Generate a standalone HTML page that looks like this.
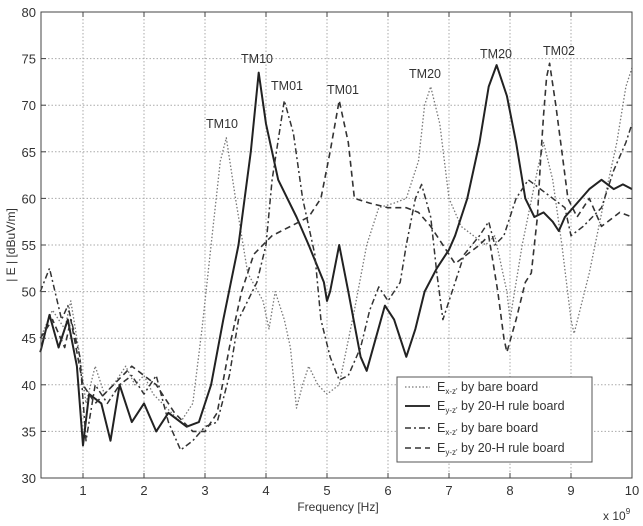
<!DOCTYPE html>
<html><head><meta charset="utf-8"><style>
html,body{margin:0;padding:0;background:#fff;}
svg{display:block;font-family:"Liberation Sans",sans-serif;}
</style></head><body>
<svg id="s" width="643" height="526" viewBox="0 0 643 526" xmlns="http://www.w3.org/2000/svg">
<rect width="643" height="526" fill="#fff"/>
<g id="grid" stroke="#aaa" stroke-width="1" stroke-dasharray="1.5,2"></g>
<g id="series" fill="none"></g>
<rect x="41" y="12" width="591" height="466" fill="none" stroke="#444" stroke-width="1"/>
<g id="ticks" stroke="#444" stroke-width="1"></g>
<g id="labels" font-size="13" fill="#333"></g>
<g font-size="12.5" fill="#333" text-anchor="middle">
<text x="222" y="128">TM10</text>
<text x="257" y="63">TM10</text>
<text x="287" y="90">TM01</text>
<text x="343" y="94">TM01</text>
<text x="425" y="78">TM20</text>
<text x="496" y="58">TM20</text>
<text x="559" y="55">TM02</text>
</g>
<text x="338" y="511" font-size="12" fill="#333" text-anchor="middle">Frequency [Hz]</text>
<text x="603" y="520" font-size="12" fill="#333">x 10<tspan font-size="8" dy="-6">9</tspan></text>
<text transform="translate(15,245) rotate(-90)" font-size="12" fill="#333" text-anchor="middle">| E | [dBuV/m]</text>
<g>
<rect x="397" y="377" width="195" height="85" fill="#fff" stroke="#555" stroke-width="1"/>
<line x1="405" y1="387" x2="430" y2="387" stroke="#777" stroke-width="1.3" stroke-dasharray="1.5,2"/>
<line x1="405" y1="406" x2="430" y2="406" stroke="#333" stroke-width="2"/>
<line x1="405" y1="428" x2="430" y2="428" stroke="#333" stroke-width="1.5" stroke-dasharray="6,3,2,3"/>
<line x1="405" y1="448" x2="430" y2="448" stroke="#333" stroke-width="1.6" stroke-dasharray="6,4"/>
<g font-size="12.5" fill="#333">
<text x="437" y="391">E<tspan font-size="8" dy="3">x-z'</tspan><tspan dy="-3"> by bare board</tspan></text>
<text x="437" y="410">E<tspan font-size="8" dy="3">y-z'</tspan><tspan dy="-3"> by 20-H rule board</tspan></text>
<text x="437" y="432">E<tspan font-size="8" dy="3">x-z'</tspan><tspan dy="-3"> by bare board</tspan></text>
<text x="437" y="452">E<tspan font-size="8" dy="3">y-z'</tspan><tspan dy="-3"> by 20-H rule board</tspan></text>
</g>
</g>
</svg>
<script>
var NS="http://www.w3.org/2000/svg";
function X(f){return 22+61*f;}
function Y(v){return 12+(80-v)*9.32;}
function el(p,t,a){var e=document.createElementNS(NS,t);for(var k in a)e.setAttribute(k,a[k]);p.appendChild(e);return e;}
var g=document.getElementById("grid"),tk=document.getElementById("ticks"),lb=document.getElementById("labels");
for(var f=1;f<=10;f++){var x=X(f);if(f<10)el(g,"line",{x1:x,y1:12,x2:x,y2:478});
el(tk,"line",{x1:x,y1:478,x2:x,y2:473});el(tk,"line",{x1:x,y1:12,x2:x,y2:17});
var t=el(lb,"text",{x:x,y:495,"text-anchor":"middle"});t.textContent=f;}
for(var v=30;v<=80;v+=5){var y=Y(v);if(v>30&&v<80)el(g,"line",{x1:41,y1:y,x2:632,y2:y});
el(tk,"line",{x1:41,y1:y,x2:46,y2:y});el(tk,"line",{x1:632,y1:y,x2:627,y2:y});
var t=el(lb,"text",{x:36,y:y+5,"text-anchor":"end"});t.textContent=v;}
var S=[
{d:[0.3,45,0.5,48,0.7,46,0.8,49,0.95,43,1.05,38,1.2,42,1.35,39,1.5,40,1.7,42,1.85,40,2.0,41,2.15,39,2.3,38,2.45,37,2.6,36,2.8,38,2.95,46,3.1,55,3.25,64,3.35,66.5,3.5,60,3.7,52,3.95,49,4.05,46,4.15,50,4.3,47,4.4,44,4.5,37.5,4.6,40,4.7,42,4.85,40,5.0,39,5.2,40,5.45,48,5.65,55,5.85,59,6.1,59.5,6.3,60,6.5,64,6.6,70,6.7,72,6.85,68,7.0,60,7.2,57,7.4,56,7.6,55,7.75,56,7.95,50,8.0,47,8.2,55,8.45,63,8.55,66,8.7,62,8.85,55,9.0,47,9.05,45.5,9.3,52,9.55,60,9.75,66,9.9,72,10,74],
 s:"#777",w:1.3,da:"1.5,2"},
{d:[0.3,43.5,0.45,47.5,0.6,44,0.75,47,0.9,42,1.0,33.5,1.1,39,1.3,38,1.45,34,1.6,40,1.8,36,2.0,38,2.2,35,2.4,37,2.7,35.5,2.9,36,3.1,40,3.3,47,3.55,55,3.75,65,3.88,73.5,4.0,68,4.2,62,4.5,58,4.7,55,4.95,51,5.0,49,5.05,50,5.2,55,5.35,50,5.55,43,5.65,41.5,5.8,45,5.95,48.5,6.1,47,6.3,43,6.45,46,6.6,50,6.8,52.5,7.0,54.5,7.1,56,7.3,60,7.5,66,7.65,72,7.78,74.3,7.95,71,8.1,66,8.25,60,8.4,58,8.55,58.5,8.7,57.5,8.8,56.5,8.9,58,9.1,59.5,9.3,61,9.5,62,9.7,61,9.85,61.5,10,61],
 s:"#222",w:2,da:""},
{d:[0.3,50,0.45,52.5,0.65,47,0.75,48.5,0.95,43,1.05,34,1.2,40,1.4,38,1.6,40,1.8,41,2.0,39,2.2,41,2.4,36,2.6,33,2.8,34,3.0,35.5,3.2,36,3.4,41,3.55,47,3.7,49,3.85,51,4.0,55,4.1,62,4.3,70.5,4.45,67,4.6,60,4.8,54,4.9,47,5.05,43,5.2,40.5,5.35,41,5.55,44,5.7,48,5.85,50.5,6.0,49,6.2,51,6.3,55,6.45,60,6.55,61.5,6.7,58,6.8,52,6.9,47,7.05,50,7.25,54,7.5,56,7.65,57.5,7.75,55,7.9,56,8.1,60,8.3,62,8.5,61,8.7,60,8.9,59,9.0,56,9.2,57,9.35,58,9.5,59,9.7,63,9.9,66,10,68],
 s:"#333",w:1.5,da:"6,3,2,3"},
{d:[0.3,45,0.5,47,0.7,44,0.8,47,1.0,40,1.2,38,1.5,40,1.8,42,2.2,40,2.5,37,2.8,35,3.0,35,3.2,37,3.4,44,3.6,50,3.8,54,4.1,56,4.4,57,4.7,58,4.9,60,5.05,65,5.2,70.5,5.35,66,5.45,60,5.7,59.5,6.0,59,6.3,59,6.5,58.5,6.7,57,6.9,55,7.1,53,7.3,54,7.5,55,7.65,56,7.8,50,7.9,45,7.95,43.5,8.1,47,8.25,51,8.35,52,8.45,58,8.5,64,8.55,69,8.6,73,8.65,74.5,8.75,70,8.85,65,8.95,60,9.1,58,9.3,60,9.5,57,9.8,58.5,10,58],
 s:"#333",w:1.6,da:"6,4"}];
var sg=document.getElementById("series");
S.forEach(function(o){var p=[];for(var i=0;i<o.d.length;i+=2)p.push(X(o.d[i]).toFixed(1)+","+Y(o.d[i+1]).toFixed(1));
var a={points:p.join(" "),stroke:o.s,"stroke-width":o.w,"stroke-linejoin":"round"};if(o.da)a["stroke-dasharray"]=o.da;el(sg,"polyline",a);});
</script>
</body></html>
